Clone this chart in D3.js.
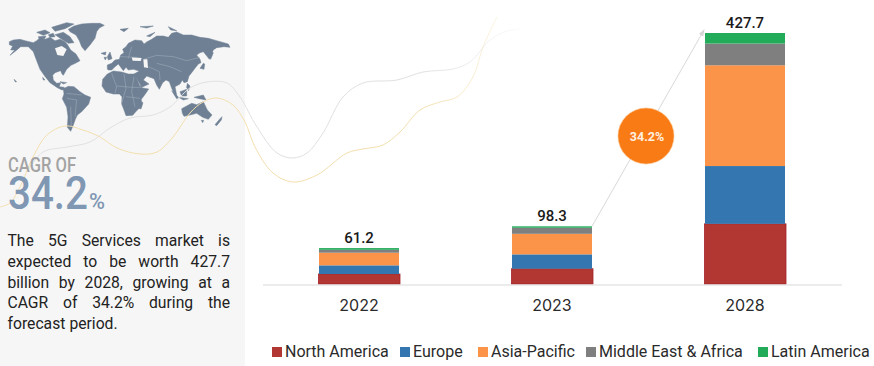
<!DOCTYPE html>
<html><head><meta charset="utf-8">
<script src="https://cdn.jsdelivr.net/npm/d3@7/dist/d3.min.js"></script>
<style>html,body{margin:0;padding:0;background:#fff}svg{display:block}text{font-family:Roboto,"Liberation Sans",sans-serif}</style>
</head><body><svg id="c" width="874" height="366"></svg>
<script>
// ---- chart data
const years = ["2022","2023","2028"];
const regions = ["North America","Europe","Asia-Pacific","Middle East & Africa","Latin America"];
const northAmerica = [17, 26, 102.5];
const europe = [14.8, 24.5, 98.5];
const asiaPacific = [21.5, 35, 171.7];
const middleEastAfrica = [5, 10.3, 37];
const latinAmerica = [2.9, 2.5, 18];
const totals = [61.2, 98.3, 427.7];
const regionColors = ["#b23632","#3477b0","#fb9448","#7f7f7f","#22ac5a"];
const cagrText = "34.2%";
const paragraph = [
 ["The 5G Services market is",true],
 ["expected to be worth 427.7",true],
 ["billion by 2028, growing at a",true],
 ["CAGR of 34.2% during the",true],
 ["forecast period.",false]];

// ---- decorative outlines, traced on a 3x grid
const land = [
 [[28,125],[40,120],[60,118],[75,122],[100,128],[110,122],[120,113],[135,118],[150,112],[165,122],[180,118],[195,125],[203,135],[212,150],[228,162],[240,182],[226,190],[213,196],[200,208],[190,226],[186,222],[182,212],[165,218],[158,226],[160,240],[170,250],[182,248],[178,260],[192,262],[196,268],[186,270],[172,263],[150,248],[134,228],[120,208],[110,182],[100,155],[85,140],[62,140],[48,152],[30,166],[44,150],[32,150],[38,138],[28,134]],
 [[205,88],[222,78],[245,72],[275,70],[300,70],[313,76],[298,84],[290,95],[285,115],[270,135],[255,152],[245,140],[238,122],[228,105],[210,95]],
 [[165,104],[190,97],[210,110],[222,128],[205,130],[185,118]],[[110,97],[135,90],[150,98],[130,106]],[[155,82],[200,68],[222,72],[195,86],[165,94]],[[115,110],[138,108],[134,116],[118,117]],[[145,104],[160,100],[165,110],[150,112]],
 [[190,266],[205,259],[222,260],[240,275],[255,285],[272,292],[266,312],[245,335],[232,345],[226,358],[218,380],[212,394],[202,382],[204,350],[200,322],[187,296],[192,282]],
 [[322,222],[340,213],[365,216],[385,222],[405,222],[418,255],[428,264],[446,267],[436,282],[424,298],[425,318],[410,332],[398,346],[378,347],[372,330],[365,312],[366,290],[358,282],[340,282],[318,276],[306,258],[308,238]],
 [[322,207],[322,195],[335,190],[345,180],[358,178],[362,165],[372,158],[368,148],[378,140],[385,130],[405,120],[425,122],[432,132],[422,140],[440,126],[455,118],[470,108],[490,108],[505,112],[515,100],[530,96],[550,105],[575,105],[600,112],[625,115],[650,122],[685,132],[690,142],[672,140],[650,143],[640,150],[632,165],[628,178],[618,165],[610,155],[600,158],[590,165],[600,178],[603,188],[595,192],[585,205],[575,218],[567,228],[562,245],[552,248],[547,240],[540,252],[525,260],[530,285],[533,295],[522,280],[515,265],[508,245],[498,240],[488,248],[478,268],[470,255],[462,236],[450,232],[440,228],[430,240],[447,252],[425,262],[408,232],[402,222],[418,213],[400,208],[385,210],[378,202],[370,212],[355,192],[345,200],[335,210],[325,210]],
 [[545,326],[560,318],[575,310],[590,314],[610,305],[622,330],[636,345],[625,358],[608,352],[590,340],[570,345],[552,349],[547,340]],
 [[604,361],[611,361],[608,368]],[[645,374],[660,356],[666,350],[664,360],[650,377]],[[417,325],[425,305],[429,308],[423,327]],
 [[322,170],[330,156],[336,176],[325,180]],[[312,172],[320,172],[316,180]],[[303,160],[318,156],[316,165]],[[360,88],[385,85],[372,95]],[[440,108],[465,97],[450,110]],[[420,80],[460,78],[440,84]],[[505,80],[530,92],[512,90]],
 [[626,172],[636,155],[640,158],[632,178]],[[600,205],[610,190],[614,192],[612,208]],[[515,272],[535,292],[530,296]],[[536,292],[565,296],[550,300]],[[540,275],[560,268],[560,288],[545,288]],[[582,292],[610,285],[618,300],[598,296]],[[562,250],[570,258],[566,272],[560,262]],[[128,232],[135,240],[130,240]],[[180,245],[200,248],[190,252]],[[42,238],[50,245],[46,246]]
];
const holes = [
 [[165,145],[185,138],[200,148],[190,168],[172,165]],
 [[430,178],[442,178],[444,204],[432,202]],[[395,172],[425,174],[422,183],[398,182]]
];
const borders = [
 [[335,220],[350,260],[345,280]],[[372,222],[378,265],[365,310]],[[402,230],[395,275],[405,320]],[[350,258],[395,262],[425,262]],[[378,290],[420,295]],
 [[430,178],[470,166],[520,170],[560,182],[600,172]],[[470,190],[510,200],[545,215]],[[445,200],[478,215],[480,240]],[[395,140],[385,175]],[[360,170],[410,172]],
 [[200,295],[230,300],[225,350]],[[200,280],[245,285]],[[212,320],[214,380]]
];
const goldCurve = [[0,207],[10,203],[20,187],[33,157],[47,135],[65,126],[83,130],[100,137],[117,148],[140,154],[157,152],[173,137],[190,113],[203,102],[217,98],[233,105],[245,122],[255,147],[273,173],[293,182],[317,175],[347,153],[363,149],[383,145],[400,132],[420,110],[440,102],[457,97],[473,77],[483,47],[497,17]];
const greyCurve = [[28,170],[43,152],[67,147],[90,142],[110,128],[130,118],[153,115],[170,107],[190,88],[207,82],[227,83],[240,97],[257,127],[277,153],[293,158],[307,153],[323,133],[343,97],[363,83],[397,80],[423,72],[453,69],[470,62],[490,40],[507,31],[520,29]];

const svg = d3.select("#c");
svg.append("rect").attr("width",245).attr("height",366).attr("fill","#f6f6f6");

const defs = svg.append("defs");
function fade(id,col){
  const g = defs.append("linearGradient").attr("id",id).attr("gradientUnits","userSpaceOnUse")
    .attr("x1",0).attr("x2",525).attr("y1",0).attr("y2",0);
  g.append("stop").attr("offset","0%").attr("stop-color",col);
  g.append("stop").attr("offset","80%").attr("stop-color",col);
  g.append("stop").attr("offset","100%").attr("stop-color",col).attr("stop-opacity",0.1);
}
fade("fg","#f3dfae"); fade("fgr","#e0e0e0");

const gridScale = d3.scaleLinear().domain([0,3]).range([0,1]);
const outline = d3.line().x(d=>gridScale(d[0])).y(d=>gridScale(d[1])).curve(d3.curveLinearClosed);
const open = d3.line().x(d=>gridScale(d[0])).y(d=>gridScale(d[1]));
const map = svg.append("g");
map.selectAll("path.l").data(land).join("path").attr("class","l").attr("d",d=>outline(d)).attr("fill","#6f8094").attr("stroke","#6f8094").attr("stroke-width",0.5);
map.selectAll("path.h").data(holes).join("path").attr("class","h").attr("d",d=>outline(d)).attr("fill","#f6f6f6");
map.selectAll("path.b").data(borders).join("path").attr("class","b").attr("d",d=>open(d)).attr("fill","none").attr("stroke","#a5b1bf").attr("stroke-width",0.5);

const smooth = d3.line().curve(d3.curveCatmullRom.alpha(0.5));
svg.append("path").attr("d",smooth(greyCurve)).attr("fill","none").attr("stroke","url(#fgr)").attr("stroke-width",1);
svg.append("path").attr("d",smooth(goldCurve)).attr("fill","none").attr("stroke","url(#fg)").attr("stroke-width",1);

function fit(sel,len){return sel.attr("textLength",len).attr("lengthAdjust","spacingAndGlyphs");}
fit(svg.append("text").attr("x",8).attr("y",172).attr("font-size",20).attr("font-weight",500).attr("fill","#a3a3a3").text("CAGR OF"),68);
fit(svg.append("text").attr("x",8).attr("y",209).attr("font-size",46).attr("font-weight",500).attr("fill","#7f97b3").text("34.2"),80);
fit(svg.append("text").attr("x",89).attr("y",209).attr("font-size",22).attr("font-weight",500).attr("fill","#7f97b3").text("%"),16);

const paraLeft=7.5, paraRight=230, paraTop=246, paraLead=20.75;
paragraph.forEach(([line,just],i)=>{
  const words=line.split(" ");
  const y=paraTop+i*paraLead;
  const nodes=words.map(w=>svg.append("text").attr("y",y).attr("font-size",15.7).attr("fill","#222").attr("font-family","Inter").text(w));
  const widths=nodes.map(n=>n.node().getComputedTextLength());
  const gap=just?(paraRight-paraLeft-d3.sum(widths))/(words.length-1):4;
  let x=paraLeft;
  nodes.forEach((n,k)=>{n.attr("x",x);x+=widths[k]+gap;});
});

const x = d3.scaleBand().domain(years).range([262.5,841.5]).paddingInner(0.5855).paddingOuter(0.29275);
const y = d3.scaleLinear().domain([0,427.7]).range([284,33]);
const stack = d3.stack().keys(regions)(years.map((yr,i)=>({
  year:yr,"North America":northAmerica[i],"Europe":europe[i],"Asia-Pacific":asiaPacific[i],
  "Middle East & Africa":middleEastAfrica[i],"Latin America":latinAmerica[i]})));

defs.append("marker").attr("id","ah").attr("viewBox","0 0 8 8").attr("refX",7).attr("refY",4)
  .attr("markerWidth",7).attr("markerHeight",7).attr("orient","auto")
  .append("path").attr("d","M0,1L8,4L0,7Z").attr("fill","#d4d4d4");
const arrowFrom=x("2023")+x.bandwidth(), arrowTo=x("2028")-1;
svg.append("line").attr("x1",arrowFrom).attr("y1",y(totals[1])).attr("x2",arrowTo).attr("y2",y(totals[2])-3)
  .attr("stroke","#d9d9d9").attr("stroke-width",1).attr("marker-end","url(#ah)");

stack.forEach((s,si)=>{
  svg.append("g").selectAll("rect").data(s).join("rect")
    .attr("x",d=>x(d.data.year)-(si===0?0.5:0))
    .attr("y",d=>y(d[1]))
    .attr("width",x.bandwidth()+(si===0?1.5:0))
    .attr("height",d=>y(d[0])-y(d[1]))
    .attr("fill",regionColors[si])
    .attr("stroke",si===0?"#a3242a":"none").attr("stroke-width",si===0?0.8:0);
});

const axis = d3.axisBottom(x).tickSize(0).tickPadding(15);
const ax = svg.append("g").attr("transform","translate(0,284.5)").call(axis);
ax.select(".domain").attr("stroke","#d9d9d9");
ax.selectAll("text").attr("font-size",16).attr("fill","#2a2a2a").style("font-family","Inter");

svg.append("g").selectAll("text").data(totals).join("text")
  .attr("x",(d,i)=>x(years[i])+x.bandwidth()/2).attr("y",d=>y(d)-5)
  .attr("text-anchor","middle").attr("font-size",15).attr("font-weight",500).attr("fill","#1a1a1a").text(d=>d.toFixed(1));

svg.append("circle").attr("cx",646).attr("cy",136).attr("r",28).attr("fill","#f97b16").attr("stroke","#fbbf85").attr("stroke-width",0.6);
svg.append("text").attr("x",647).attr("y",140.5).attr("text-anchor","middle").attr("font-size",12.5).attr("font-weight",700).attr("fill","#fff1e2").text(cagrText);

const legendX=[272,400,478,586,758];
const lg=svg.append("g").selectAll("g").data(regions).join("g").attr("transform",(d,i)=>`translate(${legendX[i]},0)`);
lg.append("rect").attr("y",347).attr("width",10).attr("height",10).attr("fill",(d,i)=>regionColors[i]);
lg.append("text").attr("x",13).attr("y",357).attr("font-size",16).attr("fill","#2a2a2a").text(d=>d);
</script></body></html>
